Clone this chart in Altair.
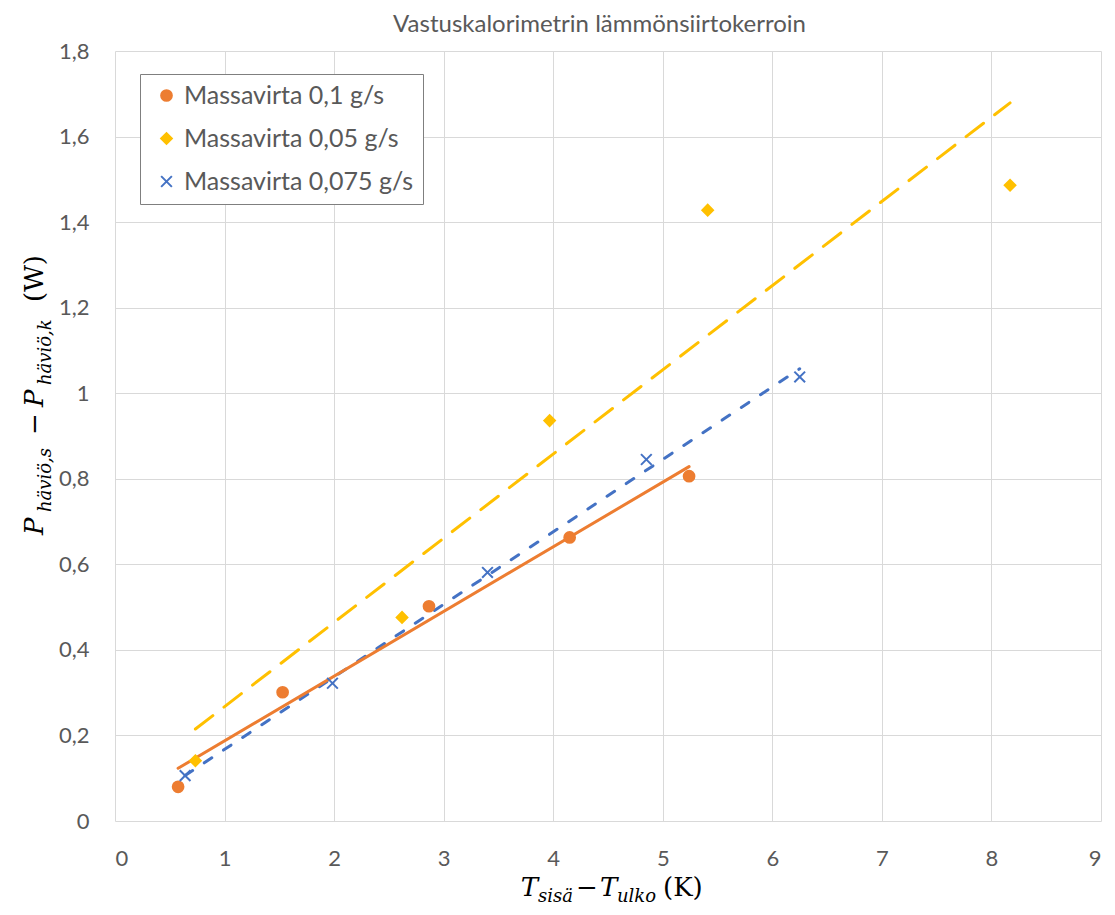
import altair as alt
import pandas as pd

series_names = ["Massavirta 0,1 g/s", "Massavirta 0,05 g/s", "Massavirta 0,075 g/s"]
series_colors = ["#ED7D31", "#FFC000", "#4472C4"]

x_01 = [0.576, 1.53, 2.866, 4.15, 5.24]
y_01 = [0.080, 0.301, 0.502, 0.663, 0.806]
x_005 = [0.734, 2.62, 3.967, 5.41, 8.17]
y_005 = [0.141, 0.476, 0.936, 1.428, 1.486]
x_0075 = [0.64, 1.985, 3.40, 4.85, 6.25]
y_0075 = [0.106, 0.322, 0.581, 0.845, 1.038]

x_ticks = [0, 1, 2, 3, 4, 5, 6, 7, 8, 9]
y_ticks = [0, 0.2, 0.4, 0.6, 0.8, 1.0, 1.2, 1.4, 1.6, 1.8]

chart_title = "Vastuskalorimetrin lämmönsiirtokerroin"

rows = []
for name, xs, ys in zip(series_names, [x_01, x_005, x_0075], [y_01, y_005, y_0075]):
    for a, b in zip(xs, ys):
        rows.append({"series": name, "x": a, "y": b})
df = pd.DataFrame(rows)

FONT = "Lato"
MATH = "DejaVu Serif"
GREY = "#595959"
x_path = "M-1,-1L1,1M-1,1L1,-1"

x_enc = alt.X(
    "x:Q",
    scale=alt.Scale(domain=[0, 9], nice=False, zero=False),
    axis=alt.Axis(values=x_ticks, title=None, labelPadding=27),
)
y_enc = alt.Y(
    "y:Q",
    scale=alt.Scale(domain=[0, 1.8], nice=False),
    axis=alt.Axis(
        values=y_ticks,
        labelExpr="replace(format(datum.value, '.1~f'), '.', ',')",
        title=None,
        labelPadding=26,
    ),
)

legend = alt.Legend(
    title=None,
    orient="none",
    legendX=25,
    legendY=23,
    labelFont=FONT,
    labelFontSize=25,
    labelColor=GREY,
    labelLimit=0,
    labelOffset=5,
    symbolOffset=5,
    symbolSize=115,
    symbolStrokeWidth=2,
    rowPadding=17,
    padding=9,
    strokeColor="#7F7F7F",
    fillColor="#FFFFFF",
)

base = alt.Chart(df)

points = base.mark_point(filled=False, size=115, strokeWidth=2, opacity=1).encode(
    x=x_enc,
    y=y_enc,
    color=alt.Color("series:N", scale=alt.Scale(domain=series_names, range=series_colors), legend=legend),
    shape=alt.Shape("series:N", scale=alt.Scale(domain=series_names, range=["circle", "diamond", x_path]), legend=legend),
    fill=alt.Fill("series:N", scale=alt.Scale(domain=series_names, range=["#ED7D31", "#FFC000", "transparent"]), legend=legend),
)


def trend(name, color, dash):
    kw = dict(color=color, strokeWidth=3, strokeCap="round")
    if dash:
        kw["strokeDash"] = dash
    return (
        base.transform_filter(alt.datum.series == name)
        .transform_regression("x", "y")
        .mark_line(**kw)
        .encode(x=x_enc, y=y_enc)
    )


def piece(text, px, py, size, italic=True, angle=0, font=MATH, color="#000000", align="left"):
    kw = dict(
        text=text,
        align=align,
        baseline="alphabetic",
        font=font,
        fontSize=size,
        color=color,
        angle=angle,
    )
    if italic:
        kw["fontStyle"] = "italic"
    return alt.Chart(alt.InlineData(values=[{"t": text}])).mark_text(**kw).encode(
        x=alt.value(px), y=alt.value(py)
    )


t1 = trend(series_names[0], series_colors[0], None)
t2 = trend(series_names[1], series_colors[1], [22, 14])
t3 = trend(series_names[2], series_colors[2], [9, 14])

# chart title
title_txt = piece(chart_title, 484.5, -19, 24, italic=False, font=FONT, color=GREY, align="center")

# x axis title: T_sisä − T_ulko (K)
xt = [
    piece("T", 405.7, 845, 26),
    piece("sisä", 423, 851, 18),
    piece("−", 461, 845, 26, italic=False),
    piece("T", 485, 845, 26),
    piece("ulko", 502, 851, 18),
    piece("(K)", 548, 845, 26, italic=False),
]

# y axis title: P_häviö,s − P_häviö,k (W)
yt = [
    piece("P", -72, 484, 26, angle=270),
    piece("häviö,s", -64, 461, 18, angle=270),
    piece("−", -72, 384, 26, italic=False, angle=270),
    piece("P", -72, 356, 26, angle=270),
    piece("häviö,k", -64, 334, 18, angle=270),
    piece("(W)", -72, 251, 26, italic=False, angle=270),
]

chart = (
    alt.layer(t2, t3, t1, points, title_txt, *xt, *yt)
    .properties(
        width=986,
        height=770,
        autosize=alt.AutoSizeParams(type="none"),
        padding={"left": 107, "top": 43, "right": 6, "bottom": 86},
    )
    .configure_view(stroke=None)
    .configure_axis(
        grid=True,
        gridColor="#D9D9D9",
        gridWidth=1,
        domain=False,
        ticks=False,
        labelFont=FONT,
        labelFontSize=22,
        labelColor=GREY,
    )
)

chart.save("out.html", embed_options={"renderer": "svg", "actions": False})
